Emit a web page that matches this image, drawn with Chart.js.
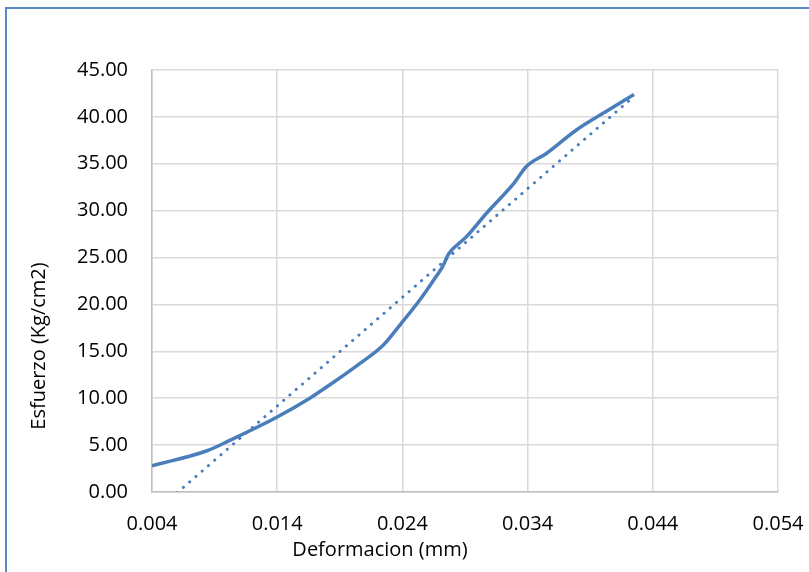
<!DOCTYPE html>
<html>
<head>
<meta charset="utf-8">
<script src="https://cdn.jsdelivr.net/npm/chart.js@4.4.1/dist/chart.umd.min.js"></script>
<style>
  body { margin: 0; background: #fff; }
  #wrap { position: relative; width: 809px; height: 572px; overflow: hidden; }
  #frame { position: absolute; left: 5px; top: 7px; width: 900px; height: 700px;
           border-left: 2px solid #5b86c4; border-top: 2px solid #5b86c4; }
  #chart { position: absolute; left: 0; top: 0; }
</style>
</head>
<body>
<div id="wrap">
  <div id="frame"></div>
  <canvas id="chart" width="809" height="572"></canvas>
</div>
<script>
// Esfuerzo vs deformacion
var deformacion = [0.0040, 0.0084, 0.0102, 0.0140, 0.0166, 0.0185, 0.0204, 0.0225, 0.0238, 0.0254, 0.0267, 0.0272, 0.0277, 0.0291, 0.0307, 0.0329, 0.0339, 0.0355, 0.0379, 0.0403, 0.0425];
var esfuerzo    = [2.8,    4.4,    5.5,    8.0,    10.0,   11.7,   13.5,   15.7,   17.8,   20.5,   23.0,   24.0,   25.4,   27.2,   29.7,   32.9,   34.7,   36.1,   38.6,   40.6,   42.4];

// linea de tendencia (lineal), extremos
var tendX = [0.0040, 0.0425];
var tendY = [-2.41, 42.19];

var xTicks = [0.004, 0.014, 0.024, 0.034, 0.044, 0.054];
var yTicks = [0, 5, 10, 15, 20, 25, 30, 35, 40, 45];

var tituloX = "Deformacion (mm)";
var tituloY = "Esfuerzo (Kg/cm2)";

var FONT = "'Open Sans', 'Liberation Sans', sans-serif";
var AZUL = "#4a7ebb";

function pares(xs, ys) {
  var out = [];
  for (var i = 0; i < xs.length; i++) out.push({ x: xs[i], y: ys[i] });
  return out;
}

// titulos de ejes, centrados sobre el grafico completo como en Excel
var titulos = {
  id: "titulos",
  afterDraw: function(chart) {
    var ctx = chart.ctx;
    ctx.save();
    ctx.fillStyle = "#000";
    ctx.font = "20px " + FONT;
    ctx.textAlign = "center";
    ctx.textBaseline = "middle";
    ctx.fillText(tituloX, 380, 550);
    ctx.translate(39, 346);
    ctx.rotate(-Math.PI / 2);
    ctx.fillText(tituloY, 0, 0);
    ctx.restore();
  }
};

new Chart(document.getElementById("chart"), {
  type: "scatter",
  data: {
    datasets: [{
      data: pares(deformacion, esfuerzo),
      showLine: true,
      borderColor: AZUL,
      borderWidth: 3.5,
      pointRadius: 0,
      cubicInterpolationMode: "monotone",
      order: 1
    }, {
      data: pares(tendX, tendY),
      showLine: true,
      borderColor: AZUL,
      borderWidth: 3,
      borderDash: [0.1, 8.2],
      borderCapStyle: "round",
      pointRadius: 0,
      order: 2
    }]
  },
  plugins: [titulos],
  options: {
    responsive: false,
    animation: false,
    events: [],
    layout: { padding: { top: 70, right: 31, left: 0, bottom: 0 } },
    plugins: { legend: { display: false }, tooltip: { enabled: false } },
    scales: {
      x: {
        type: "linear",
        min: 0.004,
        max: 0.054,
        afterBuildTicks: function(s) { s.ticks = xTicks.map(function(v) { return { value: v }; }); },
        afterFit: function(s) { s.height = 80; s.paddingLeft = 0; s.paddingRight = 0; },
        grid: { color: "#d9d9d9", lineWidth: 1.5, drawTicks: false },
        border: { color: "#bfbfbf", width: 1.5 },
        ticks: {
          color: "#000",
          font: { family: FONT, size: 20 },
          padding: 20,
          maxRotation: 0,
          callback: function(v) { return v.toFixed(3); }
        }
      },
      y: {
        min: 0,
        max: 45,
        afterBuildTicks: function(s) { s.ticks = yTicks.map(function(v) { return { value: v }; }); },
        afterFit: function(s) { s.width = 152; s.paddingTop = 0; s.paddingBottom = 0; },
        grid: { color: "#d9d9d9", lineWidth: 1.5, drawTicks: false },
        border: { color: "#bfbfbf", width: 1.5 },
        ticks: {
          color: "#000",
          font: { family: FONT, size: 20 },
          padding: 24,
          callback: function(v) { return v.toFixed(2); }
        }
      }
    }
  }
});
</script>
</body>
</html>
